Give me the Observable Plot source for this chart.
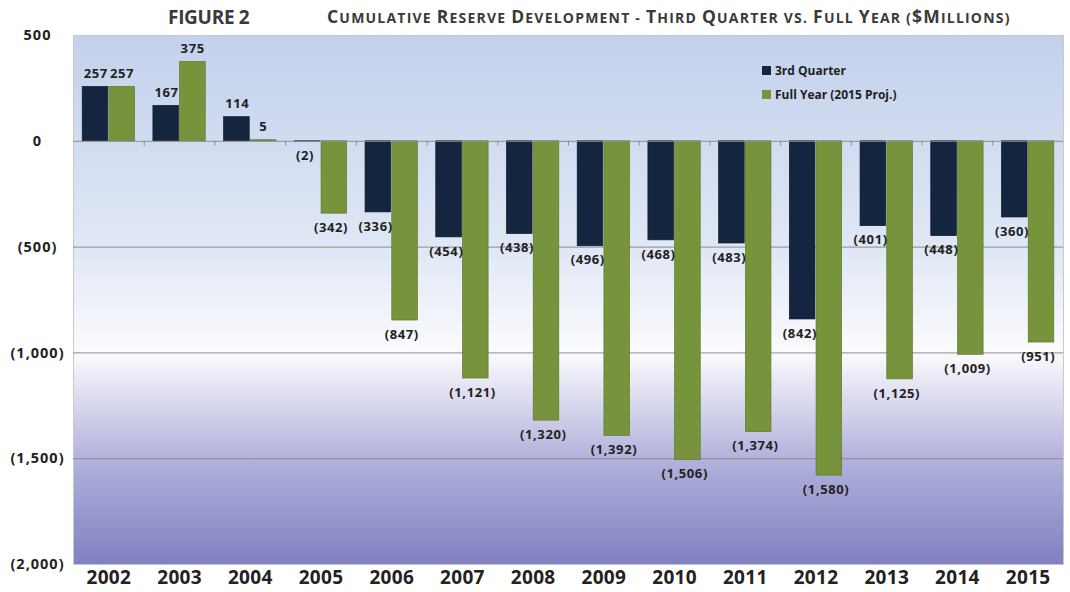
<!DOCTYPE html>
<html>
<head>
<meta charset="utf-8">
<script src="https://cdn.jsdelivr.net/npm/d3@7"></script>
<script src="https://cdn.jsdelivr.net/npm/@observablehq/plot@0.6"></script>
<style>
  body { margin: 0; background: #fff; font-family: "Open Sans", sans-serif; }
  #wrap { position: relative; width: 1070px; height: 592px; }
  #title { position: relative; height: 30px; color: #3a3a3a; font-weight: 700; }
  #fig { position: absolute; left: 168px; top: 4px; font-size: 19px; letter-spacing: -0.3px; }
  #sub { position: absolute; left: 327px; top: 4px; font-size: 14px; letter-spacing: 1.2px; white-space: nowrap; }
  #sub .c { font-size: 17.5px; }
  #legend { position: absolute; left: 762px; top: 58px; font-size: 12px; font-weight: 700; color: #222; }
  #legend div { display: flex; align-items: center; height: 24px; }
  #legend span.sw { display: inline-block; width: 9px; height: 9px; margin-right: 4px; }
</style>
</head>
<body>
<div id="wrap">
  <div id="title"><span id="fig">FIGURE 2</span><span id="sub"></span></div>
  <div id="chart"></div>
  <div id="legend"></div>
</div>
<script>
const years = ["2002","2003","2004","2005","2006","2007","2008","2009","2010","2011","2012","2013","2014","2015"];
const thirdQuarter = [257, 167, 114, -2, -336, -454, -438, -496, -468, -483, -842, -401, -448, -360];
const fullYear = [257, 375, 5, -342, -847, -1121, -1320, -1392, -1506, -1374, -1580, -1125, -1009, -951];
const seriesNames = ["3rd Quarter", "Full Year (2015 Proj.)"];
const seriesColors = ["#14263f", "#77933c"];
const yTicks = [500, 0, -500, -1000, -1500, -2000];
const gridTicks = [-500, -1000, -1500];
const subtitle = "Cumulative Reserve Development - Third Quarter vs. Full Year ($Millions)";

// small-caps subtitle: uppercase letters larger
const sub = d3.select("#sub");
for (const ch of subtitle) {
  if (ch >= "A" && ch <= "Z" || ch === "$") sub.append("span").attr("class", "c").text(ch);
  else sub.append("span").text(ch.toUpperCase());
}

const half = 0.37;
const data = [];
years.forEach((yr, i) => {
  data.push({i, year: yr, s: 0, v: thirdQuarter[i], x1: i - half, x2: i - 0.008, xc: i - half / 2});
  data.push({i, year: yr, s: 1, v: fullYear[i], x1: i + 0.008, x2: i + half, xc: i + half / 2});
});
const boundaries = years.slice(1).map((d, i) => i + 0.5);
const fmt = v => v < 0 ? "(" + d3.format(",")(-v) + ")" : d3.format(",")(v);

const plot = Plot.plot({
  width: 1070,
  height: 562,
  marginTop: 5,
  marginBottom: 28,
  marginLeft: 73,
  marginRight: 7,
  style: {fontFamily: "Open Sans, sans-serif", background: "transparent", overflow: "visible"},
  x: {domain: [-0.5, years.length - 0.5], axis: null},
  y: {domain: [-2000, 500], axis: null},
  marks: [
    Plot.frame({fill: "url(#bgGrad)", stroke: "#c8c8d0"}),
    Plot.ruleY(gridTicks, {stroke: "#8c8c8c", strokeWidth: 1}),
    Plot.rectY(data, {x1: "x1", x2: "x2", y1: 0, y2: "v", fill: d => seriesColors[d.s], stroke: d => d.s ? "#5f7a2c" : "#0c1a2e", strokeWidth: 0.7}),
    Plot.ruleY([0], {stroke: "#8c8c8c", strokeWidth: 1}),
    Plot.ruleX(boundaries, {x: d => d, y1: 0, y2: -22, stroke: "#8c8c8c"}),
    Plot.text(data.filter(d => d.v >= 0), {x: "xc", y: "v", text: d => fmt(d.v), dy: -13, fontSize: 13, fontWeight: 700, fill: "#222"}),
    Plot.text(data.filter(d => d.v < 0), {x: "xc", y: "v", text: d => fmt(d.v), dy: 14, dx: -3, fontSize: 13, fontWeight: 700, fill: "#222"}),
    Plot.axisY(yTicks, {label: null, tickSize: 0, tickPadding: 36, textAnchor: "middle", tickFormat: fmt, fontSize: 14.5, fontWeight: 700, fill: "#222"}),
    Plot.axisX(years.map((d, i) => i), {label: null, tickSize: 0, tickPadding: 6, tickFormat: i => years[i], fontSize: 19, fontWeight: 700, fill: "#222"})
  ]
});

const svg = d3.select(plot);
svg.selectAll("g[aria-label='text'] text").style("letter-spacing", "0.6px");
svg.selectAll("g[aria-label='y-axis tick label'] text").style("letter-spacing", "1px");
svg.selectAll("g[aria-label='x-axis tick label'] text").style("letter-spacing", "0.3px");
const defs = svg.insert("defs", ":first-child");
const g = defs.append("linearGradient").attr("id", "bgGrad").attr("x1", 0).attr("y1", 0).attr("x2", 0).attr("y2", 1);
[[0, "#c3d1ec"], [0.4, "#e0e7f5"], [0.6, "#fbfbfe"], [0.8, "#b2b2dc"], [1, "#8080c1"]].forEach(([o, c]) => g.append("stop").attr("offset", o).attr("stop-color", c));

document.getElementById("chart").appendChild(plot);

const legend = d3.select("#legend");
seriesNames.forEach((n, k) => {
  const row = legend.append("div");
  row.append("span").attr("class", "sw").style("background", seriesColors[k]);
  row.append("span").text(n);
});
</script>
</body>
</html>
